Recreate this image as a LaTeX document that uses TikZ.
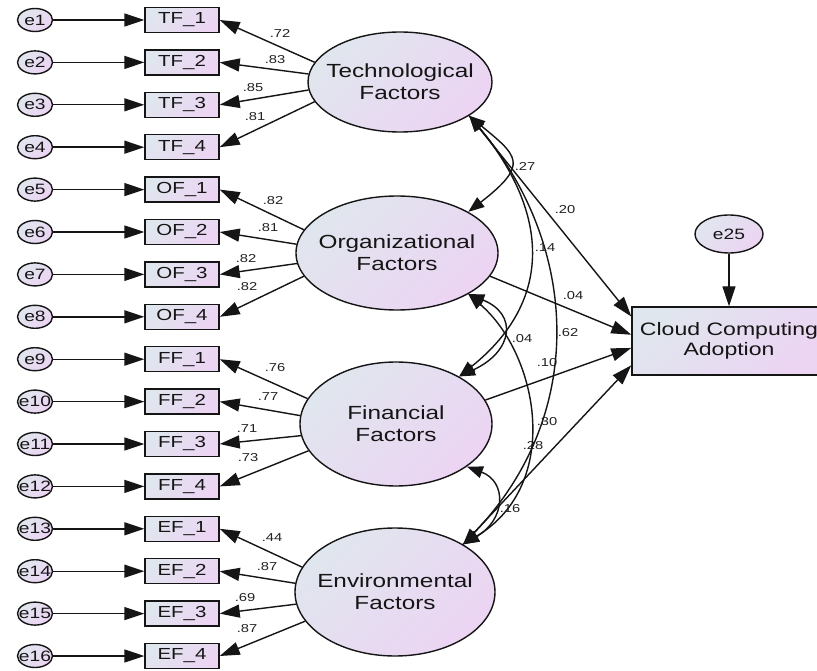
\documentclass[tikz,border=0pt]{standalone}
\usepackage{fontspec}
\setmainfont{Liberation Sans}
\usepackage{graphicx}
\usetikzlibrary{arrows.meta,calc,shapes.geometric}

\definecolor{inkc}{HTML}{151515}
\definecolor{lblc}{HTML}{222222}
\definecolor{shadeA}{HTML}{E0E6EE}
\definecolor{shadeB}{HTML}{ECD4F3}

% wide lettering, and a zero-width version so ellipses keep their set size
\newcommand{\wx}[1]{\scalebox{1.28}[1]{#1}}
\newcommand{\ztext}[1]{\makebox[0pt]{\wx{#1}}}

\tikzset{
  base/.style={draw=inkc, line width=1.4pt, top color=shadeA, bottom color=shadeB,
    shading angle=45, text=inkc, inner sep=0pt},
  latent/.style={base, ellipse, align=center, font=\fontsize{19}{22}\selectfont},
  obsbox/.style={base, rectangle, minimum width=74pt, minimum height=25pt,
    font=\fontsize{16}{18}\selectfont},
  errc/.style={base, ellipse, minimum width=35pt, minimum height=23pt,
    font=\fontsize{15}{17}\selectfont},
  outbox/.style={base, rectangle, align=center, minimum width=194pt, minimum height=68pt,
    font=\fontsize{18}{20}\selectfont},
  num/.style={inner sep=0pt, text=lblc, font=\fontsize{11.5}{13}\selectfont},
  reg/.style={draw=inkc, line width=1.4pt, -{Triangle[length=20pt,width=13pt]}},
  cov/.style={draw=inkc, line width=1.4pt,
    {Triangle[length=16pt,width=12pt]}-{Triangle[length=16pt,width=12pt]}},
}

\begin{document}
\begin{tikzpicture}[x=1pt,y=-1pt]
\fill[white] (0,0) rectangle (817,671);
\useasboundingbox (0,0) rectangle (817,671);

% latent factors
\node[latent, minimum width=184pt, minimum height=100pt] (T) at (400,82)
  {\ztext{Technological}\\\ztext{Factors}};
\node[latent, minimum width=202pt, minimum height=114pt] (O) at (397,253)
  {\ztext{Organizational}\\\ztext{Factors}};
\node[latent, minimum width=192pt, minimum height=124pt] (F) at (396,424)
  {\ztext{Financial}\\\ztext{Factors}};
\node[latent, minimum width=200pt, minimum height=128pt] (E) at (395,592)
  {\ztext{Environmental}\\\ztext{Factors}};

% error terms of the indicators
\foreach \k in {1,...,16} {
  \pgfmathsetmacro{\yy}{20+42.4*(\k-1)}
  \node[errc] (e\k) at (35,\yy) {\ztext{e\k}};
}

% indicator boxes
\foreach \lab [count=\gi from 0] in {TF,OF,FF,EF} {
  \foreach \j in {1,...,4} {
    \pgfmathsetmacro{\yy}{20+42.4*(\gi*4+\j-1)}
    \pgfmathtruncatemacro{\k}{\gi*4+\j}
    \node[obsbox] (\lab\j) at (182,\yy) {\wx{\lab\_\j}};
    \draw[reg] (e\k) -- (\lab\j);
  }
}

% factor loadings
\foreach \j/\a/\v/\dx/\dy in {1/167/.72/98/13, 2/175/.83/93/-3, 3/185/.85/71/-17, 4/193/.81/73/-31} {
  \draw[reg] (T.\a) -- (TF\j.east);
  \node[num] (vT\j) at ($(TF\j.center)+(\dx,\dy)$) {\wx{\v}};
}
\foreach \j/\a/\v/\dx/\dy in {1/166/.82/91/11, 2/175/.81/86/-4, 3/186/.82/64/-16, 4/194/.82/65/-30} {
  \draw[reg] (O.\a) -- (OF\j.east);
  \node[num] (vO\j) at ($(OF\j.center)+(\dx,\dy)$) {\wx{\v}};
}
\foreach \j/\a/\v/\dx/\dy in {1/164/.76/93/8, 2/175/.77/86/-5, 3/187/.71/65/-15, 4/197/.73/66/-29} {
  \draw[reg] (F.\a) -- (FF\j.east);
  \node[num] (vF\j) at ($(FF\j.center)+(\dx,\dy)$) {\wx{\v}};
}
\foreach \j/\a/\v/\dx/\dy in {1/165/.44/90/9, 2/175/.87/85/-5, 3/187/.69/63/-16, 4/198/.87/65/-27} {
  \draw[reg] (E.\a) -- (EF\j.east);
  \node[num] (vE\j) at ($(EF\j.center)+(\dx,\dy)$) {\wx{\v}};
}

% outcome and its disturbance
\node[errc, minimum width=68pt, minimum height=38pt] (e25) at (729,234) {\ztext{e25}};
\node[outbox] (CC) at (729,341) {\wx{Cloud Computing}\\\wx{Adoption}};
\draw[reg] (e25) -- (CC);

% structural paths
\draw[reg] (T.-26) -- ($(CC.north west)!0.147!(CC.south west)$);
\draw[reg] (O.-14) -- ($(CC.north west)!0.41!(CC.south west)$);
\draw[reg] (F.15)  -- ($(CC.north west)!0.60!(CC.south west)$);
\draw[reg] (E.35)  -- ($(CC.north west)!0.85!(CC.south west)$);
\node[num] (p1) at (565,210) {\wx{.20}};
\node[num] (p2) at (573,296) {\wx{.04}};
\node[num] (p3) at (547,363) {\wx{.10}};
\node[num] (p4) at (533,446) {\wx{.28}};

% covariances among the factors
\draw[cov] (T.-26) .. controls +(48,40) and +(62,-48) .. (O.30);
\draw[cov] (T.-26) .. controls +(75,90) and +(100,-80) .. (F.37);
\draw[cov] (T.-26) .. controls +(110,130) and +(125,-130) .. (E.35);
\draw[cov] (O.-30) .. controls +(50,20) and +(54,-25) .. (F.37);
\draw[cov] (O.-30) .. controls +(70,60) and +(100,-60) .. (E.35);
\draw[cov] (F.-31) .. controls +(40,15) and +(43,-25) .. (E.35);
\node[num] (c1) at (525,166) {\wx{.27}};
\node[num] (c2) at (545,248) {\wx{.14}};
\node[num] (c3) at (568,333) {\wx{.62}};
\node[num] (c4) at (522,339) {\wx{.04}};
\node[num] (c5) at (547,422) {\wx{.30}};
\node[num] (c6) at (510,509) {\wx{.16}};
\end{tikzpicture}
\end{document}
